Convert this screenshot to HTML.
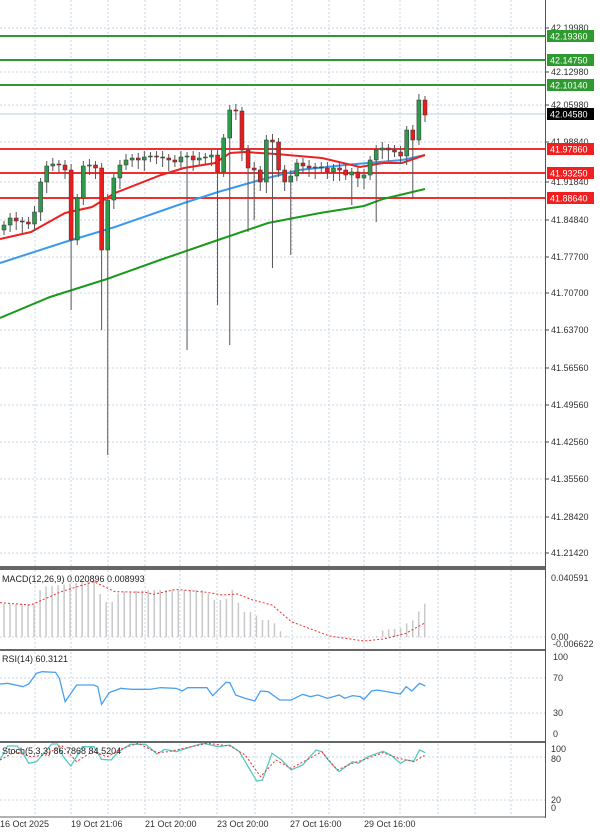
<!DOCTYPE html><html><head><style>
body{margin:0;background:#fff;width:600px;height:830px;overflow:hidden;font-family:"Liberation Sans",sans-serif}
svg text{font-family:"Liberation Sans",sans-serif;font-size:9px}
</style></head><body>
<svg id="s" width="600" height="830" xmlns="http://www.w3.org/2000/svg"></svg>
<script>
const S=document.getElementById('s');let h='';
const add=s=>h+=s;
const vx=[35,71,108,145,180,217,255,292,329,364,400,438,475,511];
function vgrid(y1,y2){vx.forEach(x=>add(`<line x1="${x}" y1="${y1}" x2="${x}" y2="${y2}" stroke="#c8d4e4" stroke-dasharray="2,2"/>`));}
vgrid(0,566);vgrid(570,648);vgrid(652,740);vgrid(744,815);
const pl=[["42.19980",28],["42.12980",72],["42.05980",105],["41.98840",142],["41.91840",182],["41.84840",220],["41.77700",257],["41.70700",293],["41.63700",330],["41.56560",368],["41.49560",405],["41.42560",442],["41.35560",479],["41.28420",517],["41.21420",553]];
pl.forEach(([t,y])=>{add(`<line x1="0" y1="${y}" x2="545" y2="${y}" stroke="#c8d4e4" stroke-dasharray="2,2"/>`);add(`<line x1="545" y1="${y}" x2="549" y2="${y}" stroke="#444"/><text x="551" y="${y+3}" fill="#333">${t}</text>`);});
add(`<line x1="0" y1="114" x2="545" y2="114" stroke="#b8cce8"/>`);
[[36,"42.19360"],[60,"42.14750"],[85,"42.10140"]].forEach(([y,t])=>{add(`<line x1="0" y1="${y}" x2="545" y2="${y}" stroke="#2f9a2f" stroke-width="2"/><rect x="547" y="${y-6}" width="47" height="12" fill="#2f9a2f"/><text x="550" y="${y+3.5}" fill="#fff">${t}</text>`)});
[[149,"41.97860"],[173,"41.93250"],[198,"41.88640"]].forEach(([y,t])=>{add(`<line x1="0" y1="${y}" x2="545" y2="${y}" stroke="#f03030" stroke-width="2"/><rect x="547" y="${y-6}" width="47" height="12" fill="#f02020"/><text x="550" y="${y+3.5}" fill="#fff">${t}</text>`)});
add(`<rect x="547" y="108" width="47" height="12" fill="#000"/><text x="550" y="117.5" fill="#fff">42.04580</text>`);
function pts(a,f){return a.map(p=>f?[p[0]/2.61,560+p[1]/3]:p).map(p=>p.join(',')).join(' ');}
const green=[[0,318],[50,297],[107,279],[160,260],[218,240],[268,223],[320,213],[364,206],[383,199],[425,189]];
const blue=[[0,263],[65,242],[115,227],[184,203],[218,192],[260,180],[299,170],[345,165],[379,162],[402,160],[425,155]];
const red=[[0,239],[31,232],[65,213],[92,207],[115,193],[161,175],[184,168],[215,163],[230,153],[245,152],[276,154],[322,158],[360,167],[383,163],[402,163],[425,155]];
add(`<polyline points="${pts(green)}" fill="none" stroke="#1a9a1a" stroke-width="2"/>`);
add(`<polyline points="${pts(blue)}" fill="none" stroke="#3a9af0" stroke-width="2"/>`);
add(`<polyline points="${pts(red)}" fill="none" stroke="#f02020" stroke-width="2"/>`);
const c=[225,218,221,222,224,212,182,166,164,165,170,240,198,166,165,168,250,200,178,165,160,158,160,157,156,157,158,160,162,157,156,160,158,157,155,172,138,110,111,150,168,170,182,140,142,170,182,176,163,166,168,167,168,172,168,170,175,172,178,175,160,150,148,150,152,156,130,140,100,115];
const lw={11:310,16:330,17:455,30:350,35:305,37:345,44:268,47:255,40:232,41:220,61:222,57:205,67:198};
const dx=(425-4)/(c.length-1);
let prev=230;
c.forEach((cl,i)=>{const x=4+i*dx;const o=prev;prev=cl;const top=Math.min(o,cl),bot=Math.max(o,cl);
const hi=top-4-(i%3);const lo=lw[i]||bot+5+(i%4)*2;
add(`<line x1="${x}" y1="${hi}" x2="${x}" y2="${lo}" stroke="#555"/>`);
const col=cl<o?"#2e9a4a":"#e81e1e";
add(`<rect x="${x-2}" y="${top}" width="4" height="${Math.max(bot-top,1)}" fill="${col}" stroke="#333" stroke-width="0.5"/>`);});
add(`<line x1="545.5" y1="0" x2="545.5" y2="818" stroke="#555"/>`);
[567,569,650,742].forEach(y=>add(`<line x1="0" y1="${y}" x2="545" y2="${y}" stroke="#666" stroke-width="2"/>`));
add(`<line x1="0" y1="817" x2="545" y2="817" stroke="#666" stroke-width="1"/>`);
add(`<line x1="0" y1="637" x2="545" y2="637" stroke="#c8d4e4" stroke-dasharray="2,2"/>`);
const mb=[[0,604],[90,604],[108,587],[160,585],[250,580],[268,602],[300,602],[310,592],[400,590],[540,590],[550,600],[590,600],[600,585],[620,600],[630,612],[660,612],[680,620],[710,620],[725,628],[740,635],[760,637],[980,637],[1000,630],[1050,628],[1065,622],[1080,620],[1095,610],[1110,603]];
function interp(a,x){for(let k=0;k<a.length-1;k++){if(x>=a[k][0]&&x<=a[k+1][0]){const t=(x-a[k][0])/(a[k+1][0]-a[k][0]||1);return a[k][1]+t*(a[k+1][1]-a[k][1]);}}return a[a.length-1][1];}
for(let i=0;i<71;i++){const x=4+i*6.01;const y=interp(mb,x*2.61);if(637-y>0.5)add(`<line x1="${x}" y1="${y}" x2="${x}" y2="637" stroke="#c8c8c8" stroke-width="1.5"/>`);}
const ms=[[0,128],[80,135],[160,95],[245,65],[300,95],[380,97],[400,103],[460,88],[540,97],[580,105],[620,102],[660,120],[710,135],[760,185],[860,228],[950,243],[1000,237],[1060,220],[1110,188]];
add(`<polyline points="${pts(ms,1)}" fill="none" stroke="#f03030" stroke-dasharray="2,2"/>`);
add(`<text x="2" y="582" fill="#222">MACD(12,26,9) 0.020896 0.008993</text>`);
add(`<text x="551" y="581" fill="#333">0.040591</text><text x="551" y="640" fill="#333">0.00</text><text x="553" y="647" fill="#333">-0.006622</text>`);
[678,713].forEach(y=>add(`<line x1="0" y1="${y}" x2="545" y2="${y}" stroke="#c8d4e4" stroke-dasharray="2,2"/>`));
const rs=[[0,372],[20,370],[60,380],[75,372],[95,340],[110,335],[145,337],[155,355],[170,425],[200,375],[245,375],[255,380],[265,433],[285,398],[315,385],[345,388],[390,388],[420,383],[460,385],[475,393],[490,383],[540,383],[555,407],[590,367],[600,368],[615,405],[640,415],[665,423],[680,393],[700,395],[730,420],[760,420],[790,403],[810,410],[830,405],[855,415],[885,405],[900,415],[920,407],[940,410],[950,418],[970,393],[985,390],[1045,402],[1060,380],[1075,393],[1095,370],[1110,378]];
add(`<polyline points="${pts(rs,1)}" fill="none" stroke="#4aa0f0" stroke-width="1.3"/>`);
add(`<text x="2" y="662" fill="#222">RSI(14) 60.3121</text>`);
[["100",660],["70",681],["30",716],["0",737]].forEach(([t,y])=>add(`<text x="553" y="${y}" fill="#333">${t}</text>`));
[757,800].forEach(y=>add(`<line x1="0" y1="${y}" x2="545" y2="${y}" stroke="#c8d4e4" stroke-dasharray="2,2"/>`));
const st=[[0,600],[20,558],[45,558],[60,580],[75,610],[95,605],[115,580],[135,552],[150,552],[165,590],[185,618],[205,580],[215,560],[245,560],[265,598],[290,600],[310,575],[340,553],[380,553],[410,582],[430,568],[460,575],[500,560],[530,550],[570,560],[600,555],[625,575],[645,615],[670,663],[685,660],[710,580],[735,600],[760,630],[790,615],[825,570],[840,575],[860,605],[885,635],[920,605],[935,610],[960,590],[1000,574],[1020,585],[1045,610],[1060,600],[1080,603],[1095,570],[1110,578]];
const sr=[[0,600],[40,575],[80,590],[120,585],[160,555],[200,605],[240,575],[280,590],[320,565],[360,550],[410,578],[440,575],[500,560],[540,550],[600,558],[640,585],[680,650],[720,600],[760,625],[800,600],[840,575],[880,630],[920,610],[960,595],[1000,578],[1040,595],[1080,605],[1110,585]];
add(`<polyline points="${pts(st,1)}" fill="none" stroke="#5ac8c0" stroke-width="1.3"/>`);
add(`<polyline points="${pts(sr,1)}" fill="none" stroke="#f03030" stroke-dasharray="2,2"/>`);
add(`<text x="2" y="754" fill="#222">Stoch(5,3,3) 86.7868 84.5204</text>`);
[["100",752],["80",762],["20",803],["0",811]].forEach(([t,y])=>add(`<text x="551" y="${y}" fill="#333">${t}</text>`));
[["16 Oct 2025",0],["19 Oct 21:06",71],["21 Oct 20:00",145],["23 Oct 20:00",217],["27 Oct 16:00",290],["29 Oct 16:00",364]].forEach(([t,x])=>add(`<text x="${x}" y="827" fill="#333">${t}</text>`));
S.innerHTML=h;
</script></body></html>
